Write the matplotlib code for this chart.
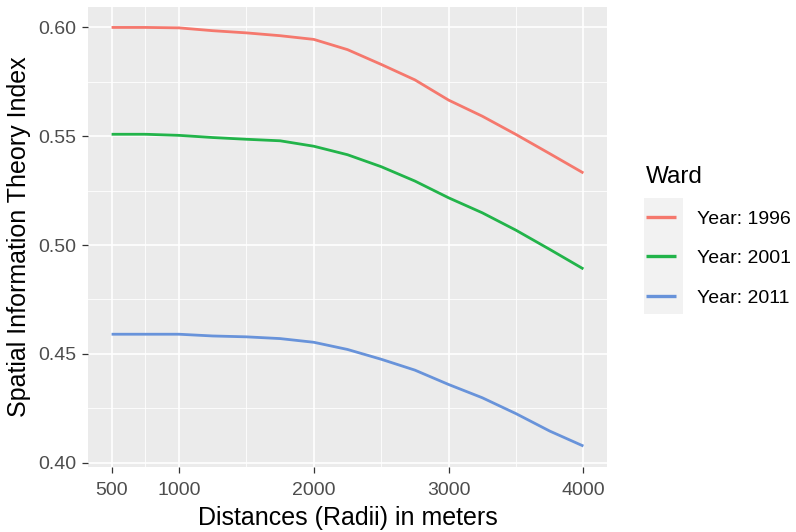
import matplotlib
matplotlib.use("Agg")
import matplotlib.pyplot as plt
from matplotlib.patches import Rectangle

plt.rcParams['font.family'] = ['Liberation Sans', 'DejaVu Sans']

distances = [500, 750, 1000, 1250, 1500, 1750, 2000, 2250, 2500, 2750, 3000, 3250, 3500, 3750, 4000]
year_1996 = [0.6000, 0.6000, 0.5998, 0.5985, 0.5975, 0.5962, 0.5945, 0.5898, 0.5830, 0.5759, 0.5666, 0.5592, 0.5508, 0.5420, 0.5331]
year_2001 = [0.5509, 0.5509, 0.5504, 0.5494, 0.5486, 0.5479, 0.5454, 0.5415, 0.5360, 0.5294, 0.5217, 0.5148, 0.5068, 0.4980, 0.4890]
year_2011 = [0.4590, 0.4590, 0.4590, 0.4582, 0.4578, 0.4570, 0.4553, 0.4520, 0.4475, 0.4425, 0.4359, 0.4298, 0.4225, 0.4145, 0.4076]
series_labels = ["Year: 1996", "Year: 2001", "Year: 2011"]
colors = ["#F5786D", "#22B44A", "#6893DA"]

x_ticks = [500, 1000, 2000, 3000, 4000]
x_minor = [750, 1500, 2500, 3500]
y_ticks = [0.40, 0.45, 0.50, 0.55, 0.60]
y_minor = [0.425, 0.475, 0.525, 0.575]

W, H = 796, 532
fig = plt.figure(figsize=(W/100, H/100), dpi=100)
ax = fig.add_axes([88/W, 1-467/H, (607-88)/W, (467-6.5)/H])
ax.set_facecolor("#EBEBEB")

for v in x_minor:
    ax.axvline(v, color="white", lw=0.6, zorder=0)
for v in y_minor:
    ax.axhline(v, color="white", lw=0.6, zorder=0)
for v in x_ticks:
    ax.axvline(v, color="white", lw=1.2, zorder=0)
for v in y_ticks:
    ax.axhline(v, color="white", lw=1.2, zorder=0)

for ys, lab, c in zip([year_1996, year_2001, year_2011], series_labels, colors):
    ax.plot(distances, ys, color=c, lw=2.0, label=lab, solid_capstyle='butt')

xr = 4000 - 500
ax.set_xlim(500 - 0.05*xr, 4000 + 0.05*xr)
ymin, ymax = 0.4076, 0.6000
yr = ymax - ymin
ax.set_ylim(ymin - 0.05*yr, ymax + 0.05*yr)

ax.set_xticks(x_ticks)
ax.set_xticklabels([str(t) for t in x_ticks])
ax.set_yticks(y_ticks)
ax.set_yticklabels([f"{t:.2f}" for t in y_ticks])
ax.tick_params(axis='both', colors="#333333", length=4.5, width=0.9, labelsize=14,
               labelcolor="#4D4D4D")
ax.tick_params(axis='x', pad=6)
ax.tick_params(axis='y', pad=4)
for s in ax.spines.values():
    s.set_visible(False)

ax.set_xlabel("Distances (Radii) in meters", fontsize=18, color="black", labelpad=5)
ax.set_ylabel("Spatial Information Theory Index", fontsize=18, color="black", labelpad=5)

# legend key background
fig.patches.append(Rectangle((644/W, 1-314/H), 39/W, 116/H, transform=fig.transFigure,
                             facecolor="#F2F2F2", edgecolor="none", zorder=0))

leg = fig.legend(loc="upper left", bbox_to_anchor=(646/W, 1-166/H), title="Ward",
                 frameon=False, fontsize=14, title_fontsize=17.5, handlelength=1.55,
                 labelspacing=1.13, handletextpad=1.05, borderaxespad=0, borderpad=0)
leg._legend_box.align = "left"
for h in leg.legend_handles:
    h.set_linewidth(2.4)

fig.savefig("out.png", dpi=100)
